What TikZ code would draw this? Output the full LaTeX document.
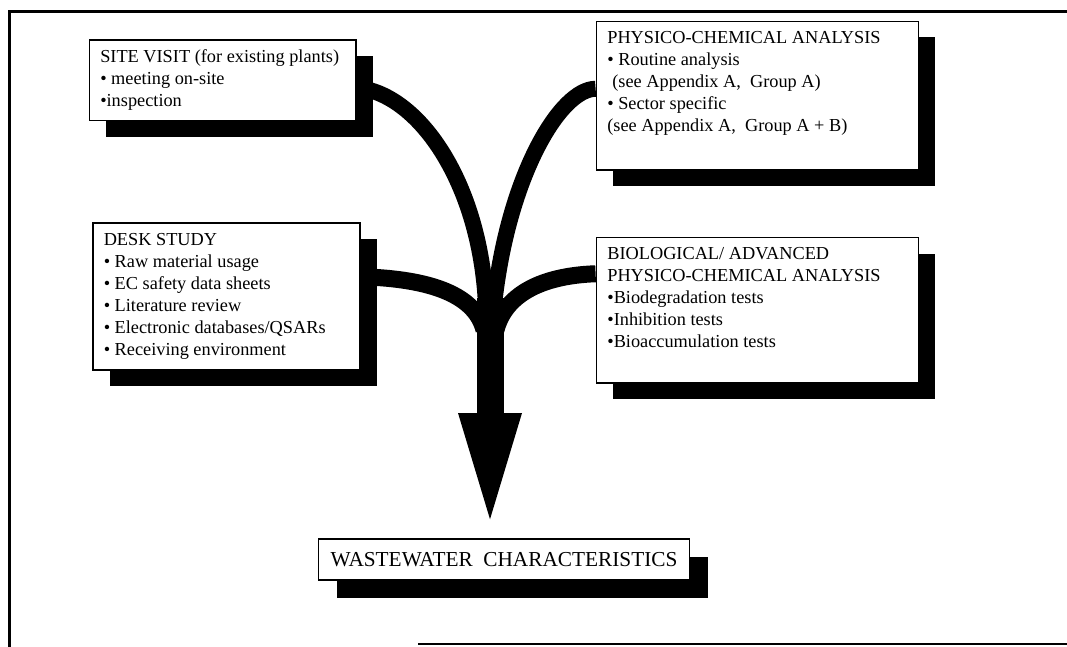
\documentclass[tikz,border=0pt]{standalone}
\usepackage{fontspec}
\setmainfont{Liberation Serif}
\usetikzlibrary{shadows,calc}
\pgfdeclarelayer{bg}
\pgfsetlayers{bg,main}
\newcommand{\boxtxt}[3]{\hspace*{11pt}\begin{minipage}[c][#2][t]{#1}\fontsize{18.3}{22}\selectfont\strut #3\end{minipage}}
\begin{document}
\begin{tikzpicture}[x=1pt,y=-1pt,
  box/.style={draw, line width=1.5pt, fill=white, inner xsep=0pt, inner ysep=7pt, anchor=north west,
    drop shadow={shadow xshift=17pt, shadow yshift=-16pt, fill=black, opacity=1}},
  flow/.style={line width=16pt, black},
  stemline/.style={line width=27pt, black},
  frame/.style={line width=3pt, black}]
\useasboundingbox (0,0) rectangle (1067,647);
% frame
\draw[frame] (1067,12) -- (9.5,12) -- (9.5,647);
\draw[line width=2.5pt] (418,644) -- (1067,644);
% boxes
\node[box] (site) at (88.5,39.3) {\boxtxt{255.8pt}{66.5pt}{SITE VISIT (for existing plants)\\
  • meeting on-site\\
  •inspection}};
\node[box] (phys) at (595.6,20.7) {\boxtxt{311pt}{134.7pt}{PHYSICO-CHEMICAL ANALYSIS\\
  • Routine analysis\\
  \hspace*{5pt}(see Appendix A,\enspace Group A)\\
  • Sector specific\\
  (see Appendix A,\enspace Group A + B)}};
\node[box] (desk) at (92,222) {\boxtxt{256.4pt}{133pt}{DESK STUDY\\
  • Raw material usage\\
  • EC safety data sheets\\
  • Literature review\\
  • Electronic databases/QSARs\\
  • Receiving environment}};
\node[box] (bio) at (595.6,236.8) {\boxtxt{311pt}{131.4pt}{BIOLOGICAL/ ADVANCED\\
  PHYSICO-CHEMICAL ANALYSIS\\
  •Biodegradation tests\\
  •Inhibition tests\\
  •Bioaccumulation tests}};
\node[draw, line width=1.5pt, fill=white, minimum width=371pt, minimum height=41pt, inner sep=0pt,
  font=\fontsize{21.3}{25}\selectfont,
  drop shadow={shadow xshift=18pt, shadow yshift=-18pt, fill=black, opacity=1}]
  (waste) at (504.1,559.5) {WASTEWATER\enspace CHARACTERISTICS};
% junction coordinates
\coordinate (jl) at (486,305);
\coordinate (jr) at (494,305);
\coordinate (ml) at (484,330);
\coordinate (mr) at (496,330);
\coordinate (j) at (490,298);
\coordinate (hb) at (490,413);
\coordinate (tip) at ([xshift=-14.1pt,yshift=19pt]waste.north);
\begin{pgfonlayer}{bg}
\draw[flow] ([yshift=-7.5pt]site.east) .. controls +(60,5) and +(-6,-125) .. (jl);
\draw[flow] ([yshift=7pt]phys.west) .. controls +(-35,0) and +(14,-130) .. (jr);
\draw[flow, line width=17pt] ([yshift=19.5pt]desk.east) .. controls +(70,2) and +(-9,-35) .. (ml);
\draw[flow, line width=17pt] ([yshift=36.5pt]bio.west) .. controls +(-55,2) and +(9,-35) .. (mr);
\draw[stemline] (j) -- (hb);
\fill[black] ([xshift=-32pt]hb) -- ([xshift=32pt]hb) -- (tip) -- cycle;
\end{pgfonlayer}
\end{tikzpicture}
\end{document}
